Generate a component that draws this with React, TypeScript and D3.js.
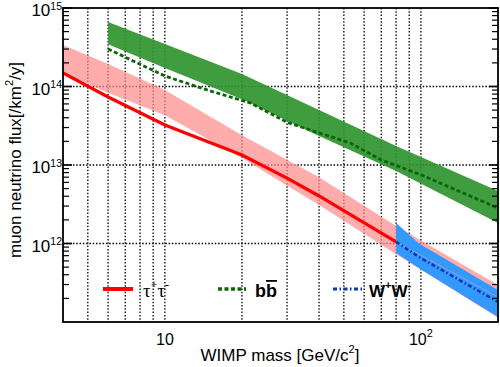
import React from 'react';
import * as d3 from 'd3';

// Muon neutrino flux vs WIMP mass, log-log, three annihilation channels.

const WIDTH = 500;
const HEIGHT = 367;
const PLOT = { left: 63, right: 498, top: 8, bottom: 322 };

// tau+ tau- channel
const tauMass = [4, 6, 10, 20, 30, 40, 80];
const tauFlux = [1.49e14, 7.35e13, 3.24e13, 1.34e13, 6.82e12, 4.03e12, 1.05e12];
const tauTailMass = [80, 200];
const tauTailFlux = [1.05e12, 2.08e11];
const tauBandMass = [4, 6, 10, 20, 40, 80, 200];
const tauBandHigh = [3.38e14, 1.94e14, 9.0e13, 2.4e13, 7.0e12, 1.67e12, 2.96e11];
const tauBandLow = [1.49e14, 8.3e13, 4.3e13, 1.23e13, 3.1e12, 7.3e11, 1.13e11];

// b b-bar channel
const bbMass = [6, 10, 15, 21.5, 30, 40, 53, 70, 100, 200];
const bbFlux = [3.0e14, 1.36e14, 8.8e13, 6.2e13, 3.5e13, 2.56e13, 1.9e13, 1.16e13, 7.5e12, 2.83e12];
const bbBandMass = [6, 10, 20, 40, 80, 200];
const bbBandHigh = [6.64e14, 3.47e14, 1.44e14, 5.02e13, 1.75e13, 4.67e12];
const bbBandLow = [3.45e14, 1.72e14, 6.9e13, 2.34e13, 8.4e12, 1.82e12];

// W+ W- channel
const wwMass = [80, 100, 200];
const wwFlux = [1.05e12, 6.5e11, 1.8e11];
const wwBandMass = [80, 98, 200];
const wwBandHigh = [1.82e12, 1.01e12, 2.56e11];
const wwBandLow = [7.57e11, 4.87e11, 1.16e11];

const xGrid = [5, 6, 7, 8, 9, 10, 20, 30, 40, 50, 60, 70, 80, 90, 100];
const yGrid = [1e12, 1e13, 1e14];
const yTickExp = [12, 13, 14, 15];
const xTickLabels = [
  { value: 10, base: '10', sup: '' },
  { value: 100, base: '10', sup: '2' },
];

const FONT = '"Liberation Sans", Arial, Helvetica, sans-serif';

export default function App() {
  const x = d3.scaleLog().domain([4, 200]).range([PLOT.left, PLOT.right]);
  const y = d3.scaleLog().domain([1e11, 1e15]).range([PLOT.bottom, PLOT.top]);

  const linePath = (ms: number[], fs: number[]) =>
    d3
      .line<number>()
      .x((m) => x(m))
      .y((_, i) => y(fs[i]))(ms) ?? '';

  const bandPath = (ms: number[], hi: number[], lo: number[]) =>
    d3
      .area<number>()
      .x((m) => x(m))
      .y0((_, i) => y(lo[i]))
      .y1((_, i) => y(hi[i]))(ms) ?? '';

  const minorY: number[] = [];
  for (let e = 11; e < 15; e++) {
    for (let k = 2; k <= 9; k++) minorY.push(k * 10 ** e);
  }

  return (
    <svg
      width={WIDTH}
      height={HEIGHT}
      viewBox={`0 0 ${WIDTH} ${HEIGHT}`}
      style={{ position: 'absolute', left: 0, top: 0, background: '#fff' }}
      fontFamily={FONT}
    >
      <defs>
        <clipPath id="plot-clip">
          <rect
            x={PLOT.left}
            y={PLOT.top}
            width={PLOT.right - PLOT.left}
            height={PLOT.bottom - PLOT.top}
          />
        </clipPath>
      </defs>

      {/* grid */}
      {xGrid.map((v) => (
        <line
          key={`gx-${v}`}
          x1={x(v)}
          x2={x(v)}
          y1={PLOT.top}
          y2={PLOT.bottom}
          stroke="#000"
          strokeWidth={1.3}
          strokeDasharray="1.5,1.8"
        />
      ))}
      {yGrid.map((v) => (
        <line
          key={`gy-${v}`}
          x1={PLOT.left}
          x2={PLOT.right}
          y1={y(v)}
          y2={y(v)}
          stroke="#000"
          strokeWidth={1.3}
          strokeDasharray="1.5,1.8"
        />
      ))}

      <g clipPath="url(#plot-clip)">
        <path d={bandPath(tauBandMass, tauBandHigh, tauBandLow)} fill="#ff8c8c" opacity={0.72} />
        <path d={bandPath(bbBandMass, bbBandHigh, bbBandLow)} fill="#2f952f" opacity={0.92} />
        <path
          d={linePath(bbMass, bbFlux)}
          fill="none"
          stroke="#0b650b"
          strokeWidth={2.8}
          strokeDasharray="4,2.5"
        />
        <path d={linePath(tauMass, tauFlux)} fill="none" stroke="#ff0000" strokeWidth={3.2} />
        <path d={bandPath(wwBandMass, wwBandHigh, wwBandLow)} fill="#3399ff" />
        <path
          d={linePath(tauTailMass, tauTailFlux)}
          fill="none"
          stroke="#ff9fb0"
          strokeWidth={1}
          opacity={0.45}
        />
        <path
          d={linePath(wwMass, wwFlux)}
          fill="none"
          stroke="#0a3aa8"
          strokeWidth={2.6}
          strokeDasharray="4,2.5,1.5,2.5"
        />
      </g>

      {/* y ticks, both sides */}
      {minorY.map((v) => (
        <g key={`my-${v}`}>
          <line x1={PLOT.left} x2={PLOT.left + 6} y1={y(v)} y2={y(v)} stroke="#000" strokeWidth={1.2} />
          <line x1={PLOT.right} x2={PLOT.right - 6} y1={y(v)} y2={y(v)} stroke="#000" strokeWidth={1.2} />
        </g>
      ))}
      {yTickExp.map((e) => (
        <g key={`ty-${e}`}>
          <line x1={PLOT.left} x2={PLOT.left + 9} y1={y(10 ** e)} y2={y(10 ** e)} stroke="#000" strokeWidth={1.6} />
          <line x1={PLOT.right} x2={PLOT.right - 9} y1={y(10 ** e)} y2={y(10 ** e)} stroke="#000" strokeWidth={1.6} />
          <text x={PLOT.left - 1} y={y(10 ** e) + 8} textAnchor="end" fontSize={17}>
            10
            <tspan fontSize={10.5} dy={-6.5}>
              {e}
            </tspan>
          </text>
        </g>
      ))}

      {/* x tick labels */}
      {xTickLabels.map((t) => (
        <text key={`tx-${t.value}`} x={x(t.value)} y={345} textAnchor="middle" fontSize={16}>
          {t.base}
          {t.sup && (
            <tspan fontSize={11} dy={-8}>
              {t.sup}
            </tspan>
          )}
        </text>
      ))}

      {/* frame */}
      <rect
        x={PLOT.left}
        y={PLOT.top}
        width={PLOT.right - PLOT.left}
        height={PLOT.bottom - PLOT.top}
        fill="none"
        stroke="#000"
        strokeWidth={1.8}
      />

      {/* legend */}
      <line x1={103} x2={133} y1={289} y2={289} stroke="#ff0000" strokeWidth={4} />
      <text x={143} y={297} fontSize={19} fontFamily='"Liberation Serif", "DejaVu Serif", serif'>
        τ<tspan fontSize={12} dy={-8}>+</tspan>
        <tspan dy={8}>τ</tspan>
        <tspan fontSize={12} dy={-8}>-</tspan>
      </text>
      <line x1={218} x2={246} y1={289} y2={289} stroke="#0b650b" strokeWidth={3.5} strokeDasharray="4,2.5" />
      <text x={255} y={297} fontSize={18} fontWeight="bold">
        b<tspan textDecoration="overline" style={{ textDecoration: 'overline' }}>b</tspan>
      </text>
      <line
        x1={333}
        x2={362}
        y1={289}
        y2={289}
        stroke="#0a3aa8"
        strokeWidth={3}
        strokeDasharray="4,2.5,1.5,2.5"
      />
      <text x={369} y={297} fontSize={17} fontWeight="bold">
        W<tspan fontSize={11} dy={-8}>+</tspan>
        <tspan dy={8}>W</tspan>
        <tspan fontSize={11} dy={-8}>-</tspan>
      </text>

      {/* axis titles */}
      <text x={280} y={361} textAnchor="middle" fontSize={17}>
        WIMP mass [GeV/c<tspan fontSize={11} dy={-8}>2</tspan>
        <tspan dy={8}>]</tspan>
      </text>
      <text
        transform="translate(21,160) rotate(-90)"
        textAnchor="middle"
        fontSize={17}
      >
        muon neutrino flux[/km<tspan fontSize={11} dy={-8}>2</tspan>
        <tspan dy={8}>/y]</tspan>
      </text>
    </svg>
  );
}
